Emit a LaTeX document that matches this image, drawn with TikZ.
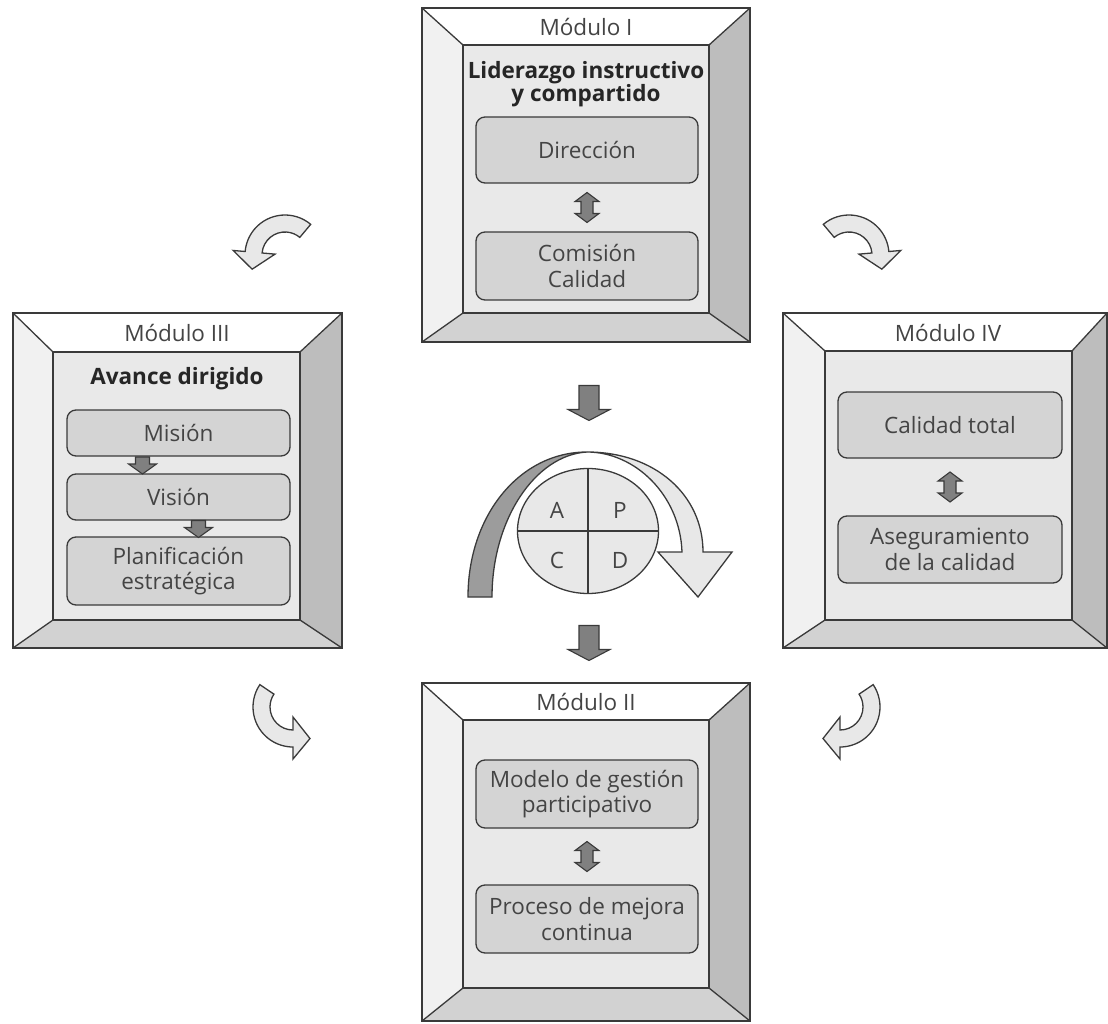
\documentclass[tikz,border=0pt]{standalone}
\usepackage{fontspec}
\setmainfont{Open Sans}
\usetikzlibrary{calc,shapes.geometric}

\definecolor{ink}{HTML}{3A3A3A}
\definecolor{txt}{HTML}{444444}
\definecolor{bevtopc}{HTML}{FFFFFF}
\definecolor{bevleftc}{HTML}{F1F1F1}
\definecolor{bevrightc}{HTML}{BDBDBD}
\definecolor{bevbotc}{HTML}{D2D2D2}
\definecolor{facec}{HTML}{E9E9E9}
\definecolor{itemc}{HTML}{D4D4D4}
\definecolor{arrowc}{HTML}{808080}
\definecolor{bandc}{HTML}{9C9C9C}
\definecolor{lightc}{HTML}{E8E8E8}

\newcommand\txtsize{\fontsize{22.5}{25.5}\selectfont}

% bevelled module frame: outer x1,y1,x2,y2 then inner x1,y1,x2,y2
\newcommand\moduleframe[8]{%
  \fill[bevtopc]   (#1,#2) -- (#3,#2) -- (#7,#6) -- (#5,#6) -- cycle;
  \fill[bevleftc]  (#1,#2) -- (#5,#6) -- (#5,#8) -- (#1,#4) -- cycle;
  \fill[bevrightc] (#3,#2) -- (#3,#4) -- (#7,#8) -- (#7,#6) -- cycle;
  \fill[bevbotc]   (#1,#4) -- (#3,#4) -- (#7,#8) -- (#5,#8) -- cycle;
  \fill[facec] (#5,#6) rectangle (#7,#8);
  \draw[edge] (#1,#2) rectangle (#3,#4);
  \draw[edge] (#5,#6) rectangle (#7,#8);
  \draw[edge] (#1,#2) -- (#5,#6) (#3,#2) -- (#7,#6) (#1,#4) -- (#5,#8) (#3,#4) -- (#7,#8);
}

% curved block arrow: centre, start angle, end angle, direction of the tip
\newcommand\bentarrow[4]{%
  \draw[bent] ([shift={(#2:40)}]#1) arc[start angle=#2, end angle=#3, radius=40]
    -- ([shift={(#3:52)}]#1) -- ($(#1)+(#3:31.5)+(#4:17)$) -- ([shift={(#3:10)}]#1)
    -- ([shift={(#3:23)}]#1) arc[start angle=#3, end angle=#2, radius=23] -- cycle;
}

\tikzset{
  edge/.style={draw=ink, line width=1.3pt, line join=miter},
  item/.style={draw=ink, fill=itemc, rounded corners=9pt, line width=1.3pt,
    minimum width=222pt, align=center, text=txt, inner sep=0pt, font=\txtsize},
  lbl/.style={text=txt, font=\txtsize, inner sep=0pt},
  title/.style={text=black!85, font=\fontsize{22.5}{23.5}\selectfont\bfseries, align=center, inner sep=0pt},
  letter/.style={text=txt, font=\txtsize, inner sep=0pt},
  blockarrow/.style={draw=ink, fill=arrowc, line width=1.1pt, line join=miter},
  bent/.style={draw=ink, fill=lightc, line width=1.3pt, line join=miter},
  pics/dblarrow/.style={code={
    \draw[blockarrow] (0,-15) -- (12,-6) -- (6,-6) -- (6,6) -- (12,6) -- (0,15)
      -- (-12,6) -- (-6,6) -- (-6,-6) -- (-12,-6) -- cycle;}},
  pics/downarrow/.style={code={
    \draw[blockarrow] (-10,-17) -- (10,-17) -- (10,7) -- (21,7) -- (0,18)
      -- (-21,7) -- (-10,7) -- cycle;}},
  pics/smallarrow/.style={code={
    \draw[blockarrow] (-7,-8) -- (7,-8) -- (7,-1) -- (14,-1) -- (0,9)
      -- (-14,-1) -- (-7,-1) -- cycle;}},
}

\begin{document}
\begin{tikzpicture}[x=1pt, y=-1pt]
\useasboundingbox (0,0) rectangle (1108,1024);
\clip (0,0) rectangle (1108,1024);

% ---- Module I ----
\moduleframe{422}{8}{750}{342}{463}{45}{709}{313}
\node[lbl] (m1-lbl) at (586,27) {Módulo I};
\node[title] (m1-title) at (586,84) {Liderazgo instructivo\\y compartido};
\node[item, minimum height=66pt] (dir) at (587,150) {Dirección};
\node[item, minimum height=68pt] (com) at (587,266) {Comisión\\Calidad};
\pic at ($(dir.south)!.5!(com.north)$) {dblarrow};

% ---- Module III ----
\moduleframe{13}{313}{342}{648}{53}{352}{300}{620}
\node[lbl] (m3-lbl) at (177,333) {Módulo III};
\node[title] (m3-title) at (177,379) {Avance dirigido};
\node[item, minimum width=223pt, minimum height=46pt] (mis) at (178.5,433) {Misión};
\node[item, minimum width=223pt, minimum height=46pt] (vis) at (178.5,497) {Visión};
\node[item, minimum width=223pt, minimum height=68pt] (pla) at (178.5,571) {Planificación\\estratégica};
\pic at ([xshift=-36pt]$(mis.south)!.5!(vis.north)$) {smallarrow};
\pic at ([xshift=20pt]$(vis.south)!.5!(pla.north)$) {smallarrow};

% ---- Module IV ----
\moduleframe{783}{313}{1107}{648}{825}{351}{1072}{620}
\node[lbl] (m4-lbl) at (948,333) {Módulo IV};
\node[item, minimum width=224pt, minimum height=66pt] (cal) at (950,425) {Calidad total};
\node[item, minimum width=224pt, minimum height=67pt] (ase) at (950,549.5) {Aseguramiento\\de la calidad};
\pic at ($(cal.south)!.5!(ase.north)$) {dblarrow};

% ---- Module II ----
\moduleframe{422}{683}{750}{1021}{463}{720}{709}{988}
\node[lbl] (m2-lbl) at (586,702) {Módulo II};
\node[item, minimum height=68pt] (mod) at (587,794) {Modelo de gestión\\participativo};
\node[item, minimum height=68pt] (pro) at (587,919) {Proceso de mejora\\continua};
\pic at ($(mod.south)!.5!(pro.north)$) {dblarrow};

% ---- PDCA cycle ----
\draw[edge, fill=bandc] (468,597) .. controls (468,515) and (520,452) .. (587,452)
  .. controls (535,455) and (492,520) .. (492,597) -- cycle;
\draw[edge, fill=lightc] (587,452) .. controls (655,452) and (703,495) .. (703,552)
  -- (732,552) -- (698,597) -- (658,552) -- (682,552)
  .. controls (680,495) and (635,452) .. (587,452) -- cycle;
\node[ellipse, draw=ink, fill=lightc, line width=1.3pt, minimum width=141pt,
  minimum height=125pt, inner sep=0pt] (pdca) at (588,531) {};
\draw[edge] (pdca.north) -- (pdca.south) (pdca.west) -- (pdca.east);
\node[letter] (lA) at (557,510) {A};
\node[letter] (lP) at (620,510) {P};
\node[letter] (lC) at (557,560) {C};
\node[letter] (lD) at (620,560) {D};

\coordinate (down1) at (589,402.5);
\coordinate (down2) at (589,642.5);
\pic at (down1) {downarrow};
\pic at (down2) {downarrow};

% ---- curved arrows between the modules ----
\coordinate (ctl) at (285,255);
\coordinate (ctr) at (849,255);
\coordinate (cbl) at (293,707);
\coordinate (cbr) at (840,707);
\bentarrow{ctl}{-50}{-175}{-265}
\bentarrow{ctr}{-130}{-5}{85}
\bentarrow{cbl}{-146}{-270}{0}
\bentarrow{cbr}{-34}{90}{180}
\end{tikzpicture}
\end{document}
